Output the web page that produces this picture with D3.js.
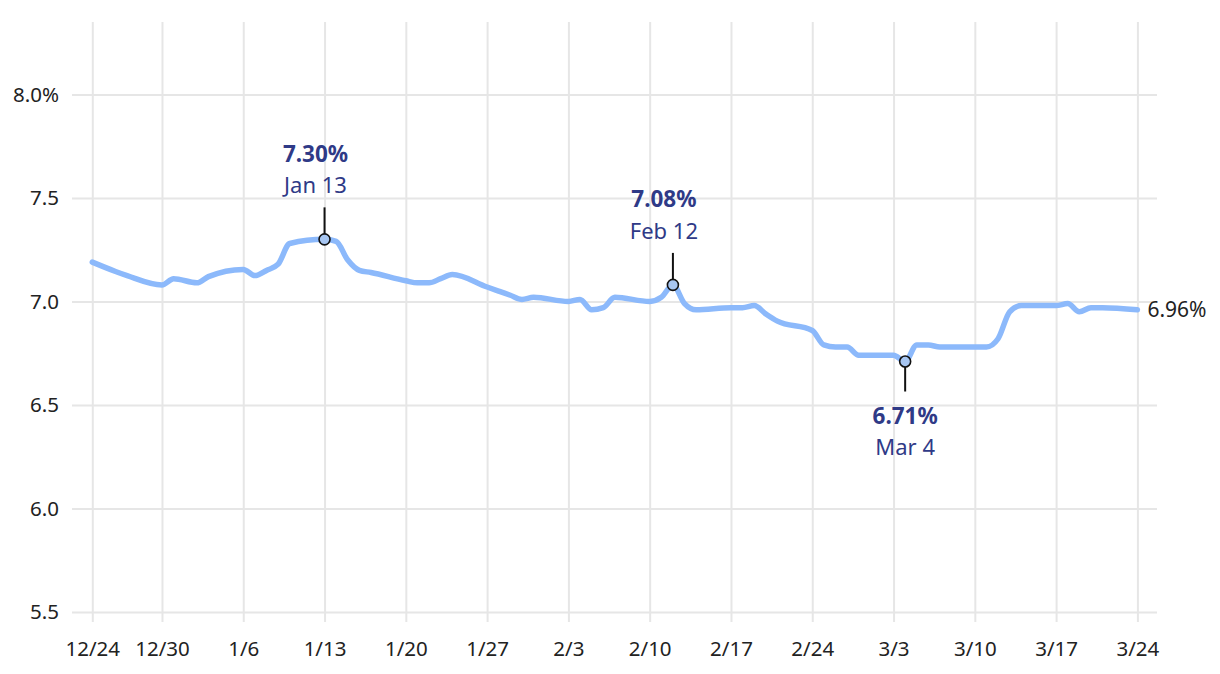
<!DOCTYPE html>
<html>
<head>
<meta charset="utf-8">
<script src="https://cdn.jsdelivr.net/npm/d3@7"></script>
<style>
  html, body { margin: 0; padding: 0; background: #fff; }
  svg { display: block; }
  svg text { font-family: "Noto Sans", "DejaVu Sans", sans-serif; }
</style>
</head>
<body>
<svg id="chart" width="1220" height="674"></svg>
<script>
// ---- data ----
const dates = [
  "2024-12-24","2024-12-26","2024-12-27","2024-12-30","2024-12-31",
  "2025-01-02","2025-01-03","2025-01-06","2025-01-07","2025-01-08","2025-01-09","2025-01-10",
  "2025-01-13","2025-01-14","2025-01-15","2025-01-16","2025-01-17",
  "2025-01-20","2025-01-21","2025-01-22","2025-01-23","2025-01-24",
  "2025-01-27","2025-01-28","2025-01-29","2025-01-30","2025-01-31",
  "2025-02-03","2025-02-04","2025-02-05","2025-02-06","2025-02-07",
  "2025-02-10","2025-02-11","2025-02-12","2025-02-13","2025-02-14",
  "2025-02-17","2025-02-18","2025-02-19","2025-02-20","2025-02-21",
  "2025-02-24","2025-02-25","2025-02-26","2025-02-27","2025-02-28",
  "2025-03-03","2025-03-04","2025-03-05","2025-03-06","2025-03-07",
  "2025-03-10","2025-03-11","2025-03-12","2025-03-13","2025-03-14",
  "2025-03-17","2025-03-18","2025-03-19","2025-03-20","2025-03-21",
  "2025-03-24"
];
const rates = [
  7.19, 7.145, 7.125, 7.08, 7.11,
  7.09, 7.12, 7.155, 7.125, 7.15, 7.18, 7.28,
  7.30, 7.29, 7.20, 7.15, 7.14,
  7.10, 7.09, 7.09, 7.11, 7.13,
  7.07, 7.05, 7.03, 7.01, 7.02,
  7.00, 7.01, 6.96, 6.97, 7.02,
  7.00, 7.02, 7.08, 6.99, 6.96,
  6.97, 6.97, 6.98, 6.94, 6.905,
  6.86, 6.79, 6.78, 6.78, 6.74,
  6.74, 6.71, 6.79, 6.79, 6.78,
  6.78, 6.78, 6.82, 6.95, 6.98,
  6.98, 6.99, 6.95, 6.97, 6.97,
  6.96
];
const xTickDates = ["2024-12-24","2024-12-30","2025-01-06","2025-01-13","2025-01-20","2025-01-27",
  "2025-02-03","2025-02-10","2025-02-17","2025-02-24","2025-03-03","2025-03-10","2025-03-17","2025-03-24"];
const yTickValues = [5.5, 6.0, 6.5, 7.0, 7.5, 8.0];
const annDates  = ["2025-01-13", "2025-02-12", "2025-03-04"];
const annLabels = ["Jan 13", "Feb 12", "Mar 4"];
const annSides  = ["above", "above", "below"];

// ---- setup ----
const parse = d3.utcParse("%Y-%m-%d");
const data = dates.map((d, i) => ({ date: parse(d), value: rates[i] }));
const svg = d3.select("#chart");
const FONT = '"Noto Sans", "DejaVu Sans", sans-serif';

const x = d3.scaleUtc()
  .domain([parse("2024-12-24"), parse("2025-03-24")])
  .range([92.3, 1137.4]);
const y = d3.scaleLinear().domain([5.5, 8.35]).range([612, 22]);

const gridColor = "#e6e6e6";
const xTicks = xTickDates.map(parse);

// horizontal grid
const yAxis = d3.axisLeft(y).tickValues(yTickValues)
  .tickSize(-(1157 - 72)).tickPadding(13)
  .tickFormat(d => d3.format(".1f")(d) + (d === 8 ? "%" : ""));
const gy = svg.append("g").attr("transform", "translate(72,0)").call(yAxis)
  .attr("font-family", FONT);
gy.select(".domain").remove();
gy.selectAll(".tick line").attr("stroke", gridColor).attr("stroke-width", 2);
gy.selectAll(".tick text").attr("font-size", 20.5).attr("fill", "#222");

// vertical grid
const xAxis = d3.axisBottom(x).tickValues(xTicks)
  .tickSize(-(622 - 22)).tickPadding(0)
  .tickFormat(d3.utcFormat("%-m/%-d"));
const gx = svg.append("g").attr("transform", "translate(0,622)").call(xAxis)
  .attr("font-family", FONT);
gx.select(".domain").remove();
gx.selectAll(".tick line").attr("stroke", gridColor).attr("stroke-width", 2);
gx.selectAll(".tick text").attr("font-size", 20.5).attr("fill", "#222")
  .attr("y", 34).attr("dy", 0);

// line
const line = d3.line().x(d => x(d.date)).y(d => y(d.value)).curve(d3.curveMonotoneX);
svg.append("path").datum(data)
  .attr("d", line)
  .attr("fill", "none")
  .attr("stroke", "#8cb9fb")
  .attr("stroke-width", 5.5)
  .attr("stroke-linejoin", "round")
  .attr("stroke-linecap", "round");

// end label
const last = data[data.length - 1];
svg.append("text")
  .attr("x", x(last.date) + 10)
  .attr("y", y(last.value) + 7)
  .attr("font-size", 21)
  .attr("fill", "#222")
  .text(d3.format(".2f")(last.value) + "%");

// annotations
const annColor = "#2f3a87";
annDates.forEach((ds, i) => {
  const pt = data.find(d => +d.date === +parse(ds));
  const cx = x(pt.date), cy = y(pt.value);
  const g = svg.append("g");
  const above = annSides[i] === "above";
  const tx = above ? cx - 9 : cx;
  if (above) {
    g.append("line").attr("x1", cx).attr("x2", cx).attr("y1", cy - 32).attr("y2", cy)
      .attr("stroke", "#111").attr("stroke-width", 2);
    g.append("text").attr("x", tx).attr("y", cy - 46).attr("text-anchor", "middle")
      .attr("font-size", 22).attr("fill", annColor).text(annLabels[i]);
    g.append("text").attr("x", tx).attr("y", cy - 77.5).attr("text-anchor", "middle")
      .attr("font-size", 22.5).attr("font-weight", 700).attr("fill", annColor)
      .text(d3.format(".2f")(pt.value) + "%");
  } else {
    g.append("line").attr("x1", cx).attr("x2", cx).attr("y1", cy).attr("y2", cy + 30)
      .attr("stroke", "#111").attr("stroke-width", 2);
    g.append("text").attr("x", tx).attr("y", cy + 62).attr("text-anchor", "middle")
      .attr("font-size", 22.5).attr("font-weight", 700).attr("fill", annColor)
      .text(d3.format(".2f")(pt.value) + "%");
    g.append("text").attr("x", tx).attr("y", cy + 93).attr("text-anchor", "middle")
      .attr("font-size", 22).attr("fill", annColor).text(annLabels[i]);
  }
  g.append("circle").attr("cx", cx).attr("cy", cy).attr("r", 5.5)
    .attr("fill", "#a7c6f2").attr("stroke", "#111").attr("stroke-width", 1.6);
});
</script>
</body>
</html>
